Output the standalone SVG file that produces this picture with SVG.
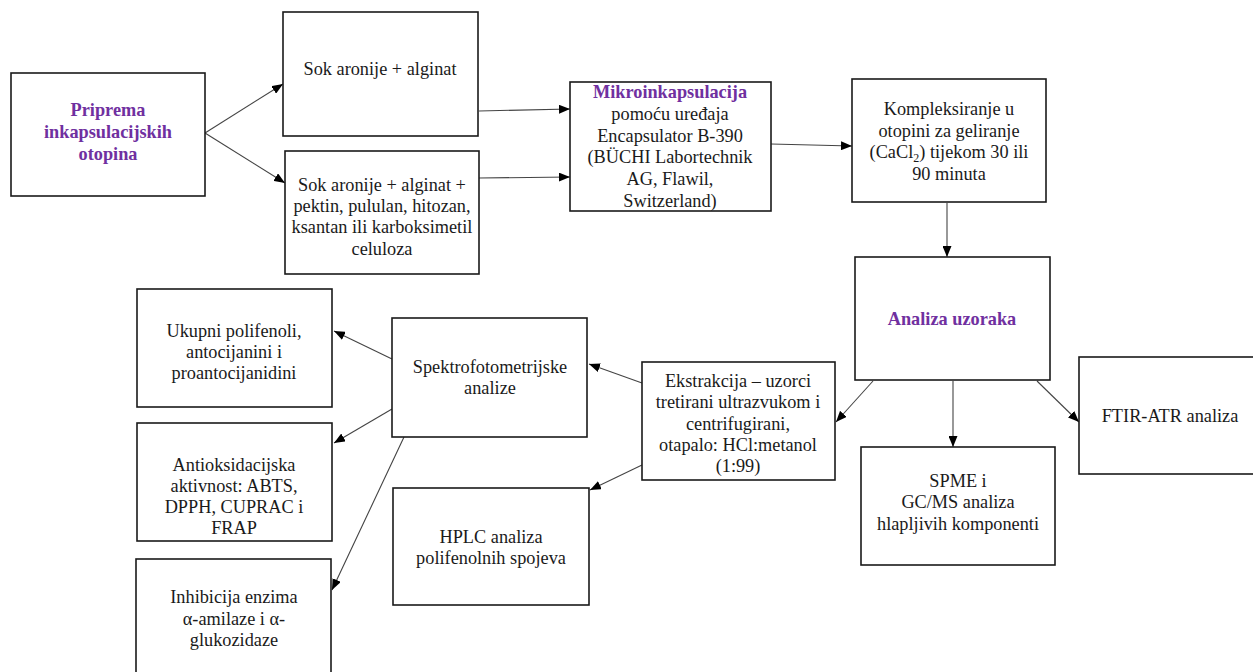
<svg xmlns="http://www.w3.org/2000/svg" width="1253" height="672" viewBox="0 0 1253 672">
<style>
.box{fill:#fff;stroke:#1a1a1a;stroke-width:1.6}
.t{font-family:"Liberation Serif","Times New Roman",serif;font-size:18.3px;fill:#1a1a1a;text-anchor:middle}
.h{font-weight:bold;fill:#7030a0}
.c{stroke:#444;stroke-width:1.1;fill:none;marker-end:url(#ah)}
</style>
<defs>
<marker id="ah" markerUnits="userSpaceOnUse" markerWidth="11" markerHeight="9" refX="11" refY="4.5" orient="auto">
<path d="M0,0 L11,4.5 L0,9 Z" fill="#000"/>
</marker>
</defs>
<rect width="1253" height="672" fill="#fff"/>
<g id="connectors">
<line class="c" x1="205" y1="133" x2="283" y2="84"/>
<line class="c" x1="205" y1="133" x2="285" y2="183"/>
<line class="c" x1="479" y1="111" x2="570" y2="109"/>
<line class="c" x1="479" y1="178" x2="570" y2="177"/>
<line class="c" x1="771" y1="144" x2="852" y2="146"/>
<line class="c" x1="947" y1="203" x2="947" y2="257"/>
<line class="c" x1="873" y1="381" x2="836" y2="422"/>
<line class="c" x1="953" y1="381" x2="953" y2="447"/>
<line class="c" x1="1037" y1="381" x2="1079" y2="422"/>
<line class="c" x1="642" y1="383" x2="589" y2="364"/>
<line class="c" x1="642" y1="465" x2="590" y2="490"/>
<line class="c" x1="392" y1="359" x2="334" y2="331"/>
<line class="c" x1="392" y1="409" x2="334" y2="443"/>
<line class="c" x1="404" y1="437" x2="332" y2="590"/>
</g>
<g id="priprema">
<rect class="box" x="11" y="73" width="194" height="123"/>
<text class="t h" x="108" y="116">Priprema</text>
<text class="t h" x="108" y="138">inkapsulacijskih</text>
<text class="t h" x="108" y="160">otopina</text>
</g>
<g id="sok1">
<rect class="box" x="283" y="12" width="195" height="124"/>
<text class="t" x="380" y="75">Sok aronije + alginat</text>
</g>
<g id="sok2">
<rect class="box" x="285" y="151" width="194" height="123"/>
<text class="t" x="382" y="191">Sok aronije + alginat +</text>
<text class="t" x="382" y="212">pektin, pululan, hitozan,</text>
<text class="t" x="382" y="233">ksantan ili karboksimetil</text>
<text class="t" x="382" y="255">celuloza</text>
</g>
<g id="mikro">
<rect class="box" x="570" y="82" width="201" height="129"/>
<text class="t h" x="670" y="98">Mikroinkapsulacija</text>
<text class="t" x="670" y="120">pomoću uređaja</text>
<text class="t" x="670" y="142">Encapsulator B-390</text>
<text class="t" x="670" y="163">(BÜCHI Labortechnik</text>
<text class="t" x="670" y="185">AG, Flawil,</text>
<text class="t" x="670" y="207">Switzerland)</text>
</g>
<g id="kompleks">
<rect class="box" x="852" y="79" width="194" height="123"/>
<text class="t" x="949" y="115">Kompleksiranje u</text>
<text class="t" x="949" y="137">otopini za geliranje</text>
<text class="t" x="949" y="158">(CaCl<tspan font-size="12" dy="4">2</tspan><tspan dy="-4">) tijekom 30 ili</tspan></text>
<text class="t" x="949" y="180">90 minuta</text>
</g>
<g id="analiza">
<rect class="box" x="855" y="257" width="195" height="123"/>
<text class="t h" x="952" y="325">Analiza uzoraka</text>
</g>
<g id="ftir">
<rect class="box" x="1079" y="357" width="190" height="117"/>
<text class="t" x="1170" y="422">FTIR-ATR  analiza</text>
</g>
<g id="spme">
<rect class="box" x="861" y="447" width="194" height="118"/>
<text class="t" x="958" y="487">SPME i</text>
<text class="t" x="958" y="508">GC/MS analiza</text>
<text class="t" x="958" y="530">hlapljivih  komponenti</text>
</g>
<g id="ekstrakcija">
<rect class="box" x="642" y="362" width="193" height="118"/>
<text class="t" x="738" y="387">Ekstrakcija  – uzorci</text>
<text class="t" x="738" y="408">tretirani  ultrazvukom i</text>
<text class="t" x="738" y="430">centrifugirani,</text>
<text class="t" x="738" y="451">otapalo: HCl:metanol</text>
<text class="t" x="738" y="472">(1:99)</text>
</g>
<g id="spektro">
<rect class="box" x="392" y="318" width="195" height="119"/>
<text class="t" x="490" y="373">Spektrofotometrijske</text>
<text class="t" x="490" y="394">analize</text>
</g>
<g id="hplc">
<rect class="box" x="393" y="488" width="196" height="117"/>
<text class="t" x="491" y="543">HPLC analiza</text>
<text class="t" x="491" y="564">polifenolnih  spojeva</text>
</g>
<g id="ukupni">
<rect class="box" x="137" y="289" width="195" height="118"/>
<text class="t" x="234" y="337">Ukupni polifenoli,</text>
<text class="t" x="234" y="358">antocijanini i</text>
<text class="t" x="234" y="379">proantocijanidini</text>
</g>
<g id="antiox">
<rect class="box" x="137" y="423" width="195" height="118"/>
<text class="t" x="234" y="471">Antioksidacijska</text>
<text class="t" x="234" y="492">aktivnost: ABTS,</text>
<text class="t" x="234" y="513">DPPH, CUPRAC i</text>
<text class="t" x="234" y="534">FRAP</text>
</g>
<g id="inhibicija">
<rect class="box" x="136" y="559" width="195" height="125"/>
<text class="t" x="234" y="603">Inhibicija enzima</text>
<text class="t" x="234" y="625">α-amilaze i α-</text>
<text class="t" x="234" y="646">glukozidaze</text>
</g>
</svg>
